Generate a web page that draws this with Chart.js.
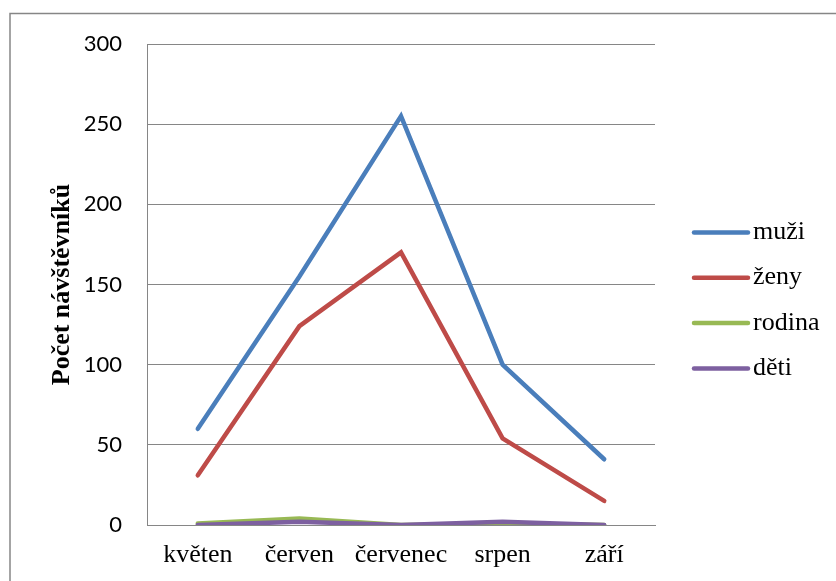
<!DOCTYPE html>
<html>
<head>
<meta charset="utf-8">
<script src="https://cdn.jsdelivr.net/npm/chart.js@4"></script>
<style>
  html, body { margin: 0; padding: 0; background: #fff; }
  #wrap { width: 836px; height: 581px; position: relative; }
</style>
</head>
<body>
<div id="wrap"><canvas id="c" width="836" height="581"></canvas></div>
<script>
const categories = ['květen', 'červen', 'červenec', 'srpen', 'září'];
const muzi   = [60, 155, 255, 100, 41];
const zeny   = [31, 124, 170, 54, 15];
const rodina = [1, 4, 0, 1, 0];
const deti   = [0, 2, 0, 2, 0];
const seriesNames = ['muži', 'ženy', 'rodina', 'děti'];
const seriesColors = ['#4A7EBB', '#BE4B48', '#98B954', '#7D60A0'];
const yTicks = [0, 50, 100, 150, 200, 250, 300];

const seriesValues = [muzi, zeny, rodina, deti];
const GRID = '#868686';

const framePlugin = {
  id: 'frame',
  beforeDraw(chart) {
    const ctx = chart.ctx;
    ctx.save();
    ctx.fillStyle = '#fff';
    ctx.fillRect(0, 0, chart.width, chart.height);
    ctx.strokeStyle = GRID;
    ctx.lineWidth = 1.5;
    ctx.beginPath();
    ctx.moveTo(10, chart.height + 5);
    ctx.lineTo(10, 13.5);
    ctx.lineTo(chart.width + 5, 13.5);
    ctx.stroke();
    ctx.restore();
  }
};

const legendPlugin = {
  id: 'customLegend',
  afterDraw(chart) {
    const ctx = chart.ctx;
    ctx.save();
    const x0 = 694, x1 = 748, tx = 753;
    const y0 = 232.5, dy = 45.3;
    chart.data.datasets.forEach((ds, i) => {
      const y = y0 + dy * i;
      ctx.strokeStyle = ds.borderColor;
      ctx.lineWidth = 4.5;
      ctx.lineCap = 'round';
      ctx.beginPath();
      ctx.moveTo(x0, y);
      ctx.lineTo(x1, y);
      ctx.stroke();
      ctx.fillStyle = '#000';
      ctx.font = '26px "Liberation Serif", "Times New Roman", serif';
      ctx.textBaseline = 'alphabetic';
      ctx.textAlign = 'left';
      ctx.fillText(ds.label, tx, y + 6.5);
    });
    ctx.restore();
  }
};

const datasets = seriesNames.map((name, i) => ({
  label: name,
  data: seriesValues[i],
  borderColor: seriesColors[i],
  backgroundColor: seriesColors[i],
  borderWidth: 4.5,
  borderCapStyle: 'round',
  borderJoinStyle: 'miter',
  pointRadius: 0,
  pointHoverRadius: 0,
  tension: 0,
  fill: false,
  order: seriesNames.length - i
}));

function zeroPad(scale) {
  scale.paddingTop = 0; scale.paddingBottom = 0;
  scale.paddingLeft = 0; scale.paddingRight = 0;
}

new Chart(document.getElementById('c'), {
  type: 'line',
  data: { labels: categories, datasets },
  options: {
    responsive: false,
    animation: false,
    devicePixelRatio: 1,
    layout: { padding: { left: 0, top: 44, right: 181, bottom: 0 } },
    plugins: {
      legend: { display: false },
      tooltip: { enabled: false }
    },
    scales: {
      x: {
        type: 'category',
        offset: true,
        grid: { display: false, drawTicks: false },
        border: { display: true, color: GRID, width: 1 },
        ticks: {
          color: '#000',
          padding: 15,
          maxRotation: 0,
          autoSkip: false,
          font: { family: '"Liberation Serif", "Times New Roman", serif', size: 26 }
        },
        afterFit(scale) { scale.height = 56; zeroPad(scale); }
      },
      y: {
        min: 0,
        max: 300,
        afterBuildTicks(scale) { scale.ticks = yTicks.map(v => ({ value: v })); },
        grid: { color: GRID, lineWidth: 1, drawTicks: false },
        border: { display: true, color: GRID, width: 1 },
        ticks: {
          color: '#000',
          padding: 25,
          font: { family: 'Lato, "Liberation Sans", sans-serif', size: 22 }
        },
        title: {
          display: true,
          text: 'Počet návštěvníků',
          color: '#000',
          padding: { top: 47, bottom: 0 },
          font: { family: '"Liberation Serif", "Times New Roman", serif', size: 26, weight: 'bold' }
        },
        afterFit(scale) { scale.width = 147; zeroPad(scale); }
      }
    }
  },
  plugins: [framePlugin, legendPlugin]
});
</script>
</body>
</html>
